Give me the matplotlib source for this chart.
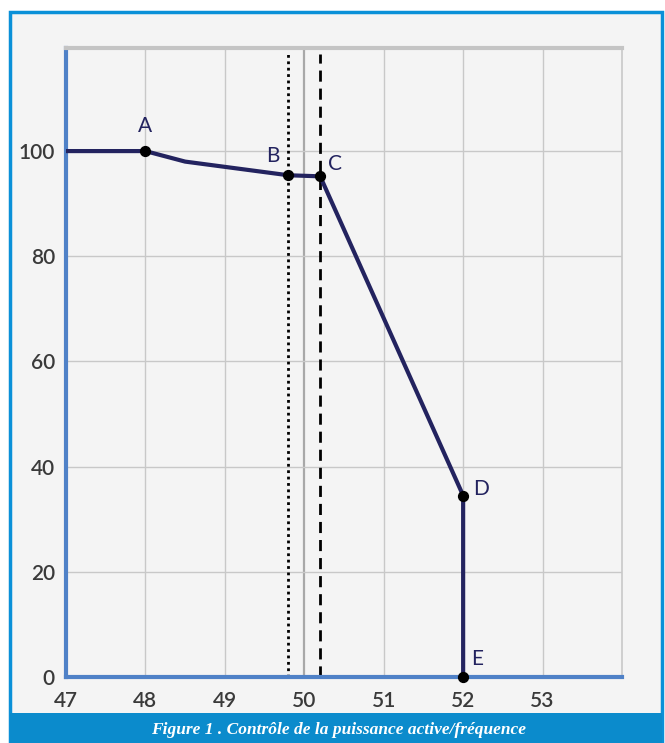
import matplotlib
matplotlib.use("Agg")
import matplotlib.pyplot as plt
from matplotlib.patches import Rectangle

# données
freq = [47, 48, 48.5, 49.8, 50.2, 52, 52]
power = [100, 100, 98, 95.4, 95.2, 34.5, 0]
pt_names = ["A", "B", "C", "D", "E"]
pt_freq = [48, 49.8, 50.2, 52, 52]
pt_power = [100, 95.4, 95.2, 34.5, 0]
xticks = [47, 48, 49, 50, 51, 52, 53]
yticks = [0, 20, 40, 60, 80, 100]
f_b = 49.8   # ligne pointillée
f_c = 50.2   # ligne tiretée
caption = "Figure 1 . Contrôle de la puissance active/fréquence"

fig = plt.figure(figsize=(6.65, 7.43), dpi=100)
fig.patch.set_facecolor("white")

# cadre bleu + bandeau de légende
fig.patches.append(Rectangle((10/665, 0), 652/665, 1 - 12/743, transform=fig.transFigure,
                             facecolor="#f4f4f4", edgecolor="#0a90d8", lw=2.5, zorder=-2))
fig.patches.append(Rectangle((10/665, 0), 652/665, 30/743, transform=fig.transFigure,
                             facecolor="#0b8bcc", edgecolor="none", zorder=-1))
fig.text(0.509, 13/743, caption, color="white", ha="center", va="center",
         fontsize=12.5, family="Liberation Serif", style="italic", weight="bold")

ax = fig.add_axes([66/665, 1 - 677/743, 556/665, 629/743])
ax.set_facecolor("#f4f4f4")
ax.set_xlim(47, 54)
ax.set_ylim(0, 119.6)

# grille
for x in range(48, 54):
    ax.axvline(x, color="#a8a8a8" if x == 50 else "#c8c8c8", lw=1.6 if x == 50 else 1.0, zorder=1)
for y in yticks[1:]:
    ax.axhline(y, color="#c8c8c8", lw=1.0, zorder=1)

ax.axvline(f_b, ymax=0.99, color="black", ls=(0, (1, 1.3)), lw=2, zorder=2)
ax.axvline(f_c, ymax=0.99, color="black", ls=(0, (4, 2.5)), lw=2, zorder=2)

ax.plot(freq, power, color="#23235f", lw=3, zorder=3)
ax.scatter(pt_freq, pt_power, s=50, color="black", zorder=4, clip_on=False)

offsets = {"A": (0, 18), "B": (-11, 14), "C": (11, 9), "D": (13, 5), "E": (10, 13)}
for n, x, y in zip(pt_names, pt_freq, pt_power):
    dx, dy = offsets[n]
    ax.annotate(n, (x, y), xytext=(dx, dy), textcoords="offset points",
                ha="center", va="center", fontsize=15, color="#23235f",
                family=["Lato", "DejaVu Sans"], zorder=5)

ax.set_xticks(xticks)
ax.set_yticks(yticks)
ax.tick_params(length=0, labelsize=15, labelcolor="#3a3a3a")
ax.tick_params(axis="x", pad=10)
ax.tick_params(axis="y", pad=8)
for lbl in ax.get_xticklabels() + ax.get_yticklabels():
    lbl.set_family(["Lato", "DejaVu Sans"])
    lbl.set_weight("semibold")

for side in ["left", "bottom"]:
    ax.spines[side].set_color("#4f81c7")
    ax.spines[side].set_linewidth(3)
ax.spines["top"].set_color("#c4c4c4")
ax.spines["top"].set_linewidth(3)
ax.spines["right"].set_color("#c8c8c8")
ax.spines["right"].set_linewidth(1.2)

fig.savefig("out.png", dpi=100)
